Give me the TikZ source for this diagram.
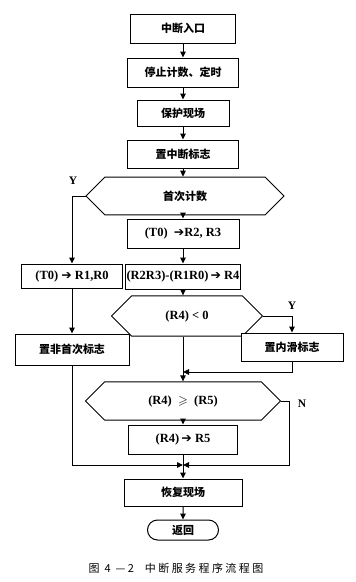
\documentclass[tikz,border=0pt]{standalone}
\usepackage{fontspec}
\usepackage{amssymb}
\setmainfont{Liberation Serif}
\newfontfamily\cjk{Noto Sans CJK SC}
\newfontfamily\capfont{Noto Sans CJK SC}[LetterSpace=22]
\newfontfamily\sym{DejaVu Sans}
\newcommand\cn[1]{{\cjk\bfseries #1}}
\newcommand\ra{{\sym\bfseries ➔}}
\usetikzlibrary{shapes.misc, arrows.meta, positioning, calc}
\tikzset{
  % --- khung xu ly -------------------------------------------
  proc/.style={draw, line width=1pt, fill=white, align=center,
    font=\fontsize{11}{13}\selectfont\bfseries, inner sep=1pt},
  % --- khung quyet dinh (luc giac) ---------------------------
  dec/.style={draw, chamfered rectangle, chamfered rectangle xsep=#1,
    chamfered rectangle ysep=12.5pt, line width=1pt, fill=white,
    align=center, font=\fontsize{11}{13}\selectfont\bfseries,
    minimum height=25pt, inner sep=1pt},
  term/.style={draw, rounded rectangle, line width=1pt, fill=white,
    align=center, font=\fontsize{11}{13}\selectfont\bfseries,
    minimum width=73pt, minimum height=20pt, inner sep=1pt},
  lat/.style={font=\fontsize{12.5}{14}\selectfont\bfseries},
  fl/.style={-{Triangle[length=6pt, width=5.5pt]}, line width=1pt},
  lbl/.style={font=\fontsize{11.5}{13}\selectfont\bfseries, inner sep=1pt}
}
\begin{document}
\begin{tikzpicture}[x=1pt, y=-1pt]
  \useasboundingbox (0,0) rectangle (356,582);

  % --- cot chinh ---
  \node[proc, minimum width=105pt, minimum height=29pt] (B1) at (183,28.5)
    {\cn{中断入口}};
  \node[proc, minimum width=111pt, minimum height=29pt] (B2) at (183,72.5)
    {\cn{停止计数、定时}};
  \node[proc, minimum width=92pt, minimum height=26pt] (B3) at (183,113)
    {\cn{保护现场}};
  \node[proc, minimum width=111pt, minimum height=28pt] (B4) at (183,154)
    {\cn{置中断标志}};
  \node[dec=39pt, minimum width=198pt] (H1) at (185,196)
    {\cn{首次计数}};
  \node[proc, lat, minimum width=112pt, minimum height=29pt] (B5) at (183,233.5)
    {(T0)\ \ \ra R2, R3};
  \node[proc, lat, minimum width=111pt, minimum height=25pt] (B6) at (183,276.5)
    {(R2R3)-(R1R0)\,\ra\ R4};
  \node[dec=19pt, lat, chamfered rectangle ysep=13.5pt, minimum width=151pt,
    minimum height=27pt] (H2) at (187,316) {(R4) < 0};
  \node[dec=40pt, lat, minimum width=195pt] (H3) at (183,401)
    {(R4)\ \ $\geqslant$\ \ (R5)};
  \node[proc, lat, minimum width=109pt, minimum height=29pt] (B7) at (183,439.5)
    {(R4)\,\ra\ R5};
  \node[proc, minimum width=118pt, minimum height=27pt] (B8) at (183,492.5)
    {\cn{恢复现场}};
  \node[term] (T) at (183,530) {\cn{返回}};

  % --- nhanh trai / phai ---
  \node[proc, lat, minimum width=101pt, minimum height=24pt] (L1) at (72,276)
    {(T0) \ra\ R1,R0};
  \node[proc, minimum width=114pt, minimum height=31pt] (L2) at (72,349.5)
    {\cn{置非首次标志}};
  \node[proc, minimum width=102pt, minimum height=28pt] (R1) at (292,347)
    {\cn{置内滑标志}};

  \node[lbl] (y1) at (73,181) {Y};
  \node[lbl] (y2) at (292,306) {Y};
  \node[lbl] (n3) at (302,404) {N};

  \coordinate (m1) at (183,372);
  \coordinate (m2) at (183,465);

  \draw[fl] (B1) -- (B2);
  \draw[fl] (B2) -- (B3);
  \draw[fl] (B3) -- (B4);
  \draw[fl] (B4) -- (B4 |- H1.north);
  \draw[fl] (B5 |- H1.south) -- (B5);
  \draw[fl] (B5) -- (B6);
  \draw[fl] (B6) -- (B6 |- H2.north);
  \draw[fl] (H2.south -| H3) -- (H3.north);
  \draw[fl] (H3) -- (B7);
  \draw[fl] (B7) -- (B8);
  \draw[fl] (B8) -- (T);

  \draw[fl] (H1.west) -| (L1.north);
  \draw[fl] (L1) -- (L2);
  \draw[fl] (L2.south) |- (m2);

  \draw[fl] (H2.east) -| (R1.north);
  \draw[fl] (R1.south) |- (m1);

  \draw[fl] (H3.east) -- ++(8,0) |- (m2);

  \node[font=\fontsize{11}{13}\selectfont] (cap) at (176,568)
    {\capfont 图 4 —2\quad 中断服务程序流程图};
\end{tikzpicture}
\end{document}
